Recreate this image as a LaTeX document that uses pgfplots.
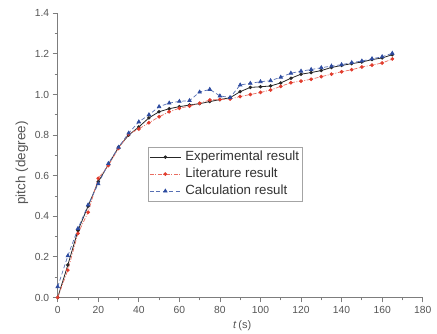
\documentclass[border=0pt]{standalone}
\usepackage{pgfplots}
\pgfplotsset{compat=1.18}
\usepackage{fontspec}
\setmainfont{Liberation Sans}
\definecolor{axgray}{RGB}{125,125,125}
\definecolor{txtgray}{RGB}{85,85,85}
\definecolor{myred}{RGB}{225,60,45}
\definecolor{myblue}{RGB}{45,75,160}

\pgfplotstableread{
t exp lit calc
0 0 0 0.053
5 0.16 0.135 0.205
10 0.33 0.316 0.34
15 0.45 0.42 0.456
20 0.57 0.587 0.56
25 0.655 0.65 0.66
30 0.74 0.735 0.74
35 0.80 0.805 0.81
40 0.84 0.83 0.865
45 0.885 0.861 0.90
50 0.915 0.89 0.94
55 0.93 0.915 0.958
60 0.94 0.932 0.966
65 0.948 0.943 0.97
70 0.955 0.957 1.012
75 0.965 0.973 1.025
80 0.975 0.975 0.993
85 0.984 0.978 0.985
90 1.014 0.99 1.047
95 1.035 1.0 1.055
100 1.038 1.01 1.063
105 1.042 1.022 1.068
110 1.057 1.04 1.085
115 1.08 1.058 1.105
120 1.10 1.066 1.115
125 1.108 1.075 1.123
130 1.118 1.088 1.132
135 1.133 1.10 1.14
140 1.143 1.112 1.147
145 1.152 1.122 1.157
150 1.16 1.135 1.165
155 1.172 1.145 1.176
160 1.18 1.155 1.186
165 1.196 1.175 1.203
}\datatable

\begin{document}
\begin{tikzpicture}
\path[use as bounding box] (-57.7pt,-36.5pt) rectangle (379.3pt,297.5pt);
\begin{axis}[
  at={(0,0)}, anchor=south west,
  scale only axis, width=365pt, height=284.2pt,
  xmin=0, xmax=180, ymin=0, ymax=1.4,
  axis x line=bottom, axis y line=left,
  axis line style={-, axgray, line width=0.8pt},
  xtick={0,20,40,60,80,100,120,140,160,180},
  ytick={0,0.2,0.4,0.6,0.8,1.0,1.2,1.4},
  minor x tick num=1, minor y tick num=1,
  tick align=outside,
  major tick length=5pt, minor tick length=3pt,
  tick style={axgray, line width=0.8pt},
  /pgf/number format/assume math mode=true,
  ticklabel style={font=\fontsize{10.3}{12}\selectfont, text=txtgray},
  y tick label style={/pgf/number format/.cd, fixed, fixed zerofill, precision=1, /tikz/.cd},
  xlabel={\textit{t}\,(s)}, ylabel={pitch (degree)},
  every axis x label/.style={at={(axis description cs:0.5,0)}, anchor=center, yshift=-28.5pt, xshift=2pt, font=\fontsize{11}{13}\selectfont, text=txtgray},
  every axis y label/.style={at={(axis description cs:0,0.473)}, rotate=90, anchor=center, yshift=35.7pt, font=\fontsize{13.5}{15}\selectfont, text=txtgray},
  legend style={at={(0.248,0.53)}, anchor=north west, draw=axgray!70, line width=0.5pt,
    font=\fontsize{13.3}{15}\selectfont, text=black!80,
    inner xsep=1pt, inner ysep=1.5pt,
    nodes={text height=10pt, text depth=3pt, inner sep=2pt, anchor=west},
    row sep=0pt, column sep=2pt},
  legend cell align=left,
  legend image code/.code={\draw[mark repeat=2, mark phase=2, #1] plot coordinates {(0pt,0pt) (15.5pt,0pt) (31pt,0pt)};},
]
\addplot[black!85, line width=0.8pt, mark=*, mark size=1.3pt, mark options={solid}] table[x=t, y=exp] {\datatable};
\addlegendentry{Experimental result}
\addplot[myred!75, line width=0.7pt, dash pattern=on 4pt off 1.5pt on 1pt off 1.5pt, mark=*, mark size=1.5pt, mark options={solid, fill=myred, draw=myred}] table[x=t, y=lit] {\datatable};
\addlegendentry{Literature result}
\addplot[myblue!80, line width=0.7pt, dash pattern=on 4pt off 2.5pt, mark=triangle*, mark size=2pt, mark options={solid, fill=myblue, draw=myblue}] table[x=t, y=calc] {\datatable};
\addlegendentry{Calculation result}
\end{axis}
\end{tikzpicture}
\end{document}
